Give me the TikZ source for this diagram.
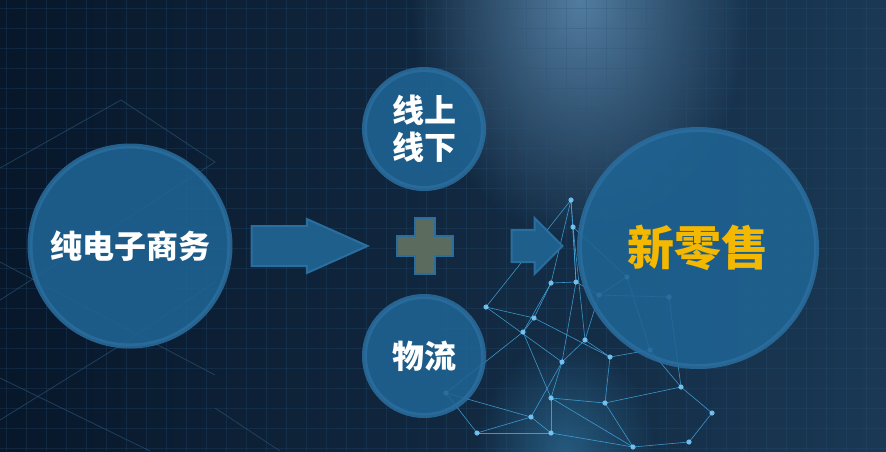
\documentclass[tikz,border=0pt]{standalone}
\usepackage{fontspec}
\newfontfamily\cjk{Noto Sans CJK SC}
\usetikzlibrary{shapes.arrows}
\usetikzlibrary{positioning}
\usetikzlibrary{fadings}
\definecolor{bgdark}{HTML}{08172A}
\definecolor{bglight}{HTML}{1A3854}
\definecolor{gridline}{HTML}{2A5478}
\definecolor{decoline}{HTML}{2C587C}
\definecolor{glowcolor}{HTML}{6C9EC6}
\definecolor{circfill}{HTML}{1F6494}
\definecolor{circrim}{HTML}{2A6E9F}
\definecolor{arrowfill}{HTML}{1F5F8C}
\definecolor{plusfill}{HTML}{5B6C5E}
\definecolor{netline}{HTML}{45B0EA}
\definecolor{netdot}{HTML}{7FD0FF}
\definecolor{retailgold}{HTML}{F5B800}
\tikzfading[name=softglow,inner color=transparent!0,outer color=transparent!100]

\begin{document}
\begin{tikzpicture}[x=1pt,y=-1pt,
            node distance = 18pt,
            bubble/.style = {circle,fill=circfill,fill opacity=0.88,
                draw=circrim,draw opacity=0.85,line width=5pt,
                text=white,text opacity=1,inner sep=0pt,align=center,
                font=\cjk\bfseries\fontsize{32}{37}\selectfont},
            blockarrow/.style = {single arrow,fill=arrowfill,
                draw=circrim,line width=2pt,inner xsep=0pt},
            plusbox/.style = {fill=plusfill,draw=circrim,line width=2pt},
            deco/.style = {decoline,line width=0.8pt,opacity=0.6},
            net/.style = {netline,line width=0.6pt,opacity=0.8}]
            \useasboundingbox (0,0) rectangle (886,451);
            \clip (0,0) rectangle (886,451);
            % background
            \shade[left color=bgdark,right color=bglight] (0,0) rectangle (886,451);
            \fill[glowcolor,fill opacity=0.7,path fading=softglow]
                (580,0) ellipse (170 and 240);
            \fill[netline,fill opacity=0.35,path fading=softglow]
                (565,451) ellipse (90 and 110);
            \foreach \gx in {6,26,...,886}
                \draw[gridline,line width=0.5pt,opacity=0.25] (\gx,0) -- (\gx,451);
            \foreach \gy in {8,28,...,451}
                \draw[gridline,line width=0.5pt,opacity=0.25] (0,\gy) -- (886,\gy);
            \draw[deco] (0,168) -- (121,100) -- (215,162) -- (0,300);
            \draw[deco] (0,262) -- (215,375);
            \draw[deco] (215,282) -- (121,345) -- (0,420);
            \draw[deco] (0,378) -- (150,451);
            \draw[deco] (215,408) -- (280,451);
            % network
            \foreach \i/\px/\py in {1/571/200,2/573/227,3/576/282,4/551/283,
                    5/599/295,6/627/277,7/669/297,8/486/307,9/534/318,
                    10/523/332,11/585/340,12/610/357,13/562/362,14/650/350,
                    15/446/393,16/551/398,17/605/403,18/681/387,19/531/417,
                    20/712/413,21/477/433,22/551/433,23/633/447,24/689/442}
                \coordinate (n\i) at (\px,\py);
            \foreach \a/\b in {1/2,1/3,1/8,2/3,2/6,2/11,3/4,3/5,4/9,4/10,
                    5/6,5/7,5/11,6/14,8/9,8/13,9/10,9/12,10/15,10/16,11/12,
                    11/13,12/14,12/17,13/16,13/19,14/18,15/21,16/17,16/22,
                    17/18,17/23,18/20,19/21,19/22,20/24,22/23,23/24,7/18,3/13,
                    1/4,15/19,21/22,16/23}
                \draw[net] (n\a) -- (n\b);
            \foreach \i in {1,...,24}
                \fill[netdot,opacity=0.85] (n\i) circle (2.6);
            % circles
            \node[bubble,minimum size=200pt] (ecom) at (130,246) {纯电子商务};
            \node[bubble,minimum size=119pt] (online) at (424,129) {线上\\线下};
            \node[bubble,minimum size=119pt] (logistics) at (424,356) {物流};
            \node[bubble,minimum size=237pt,text=retailgold,
                font=\cjk\bfseries\fontsize{47}{50}\selectfont] (retail) at (698,248) {新零售};
            % arrows and plus
            \node[blockarrow,right=of ecom,minimum height=116pt,inner ysep=19pt,
                single arrow head extend=7pt,single arrow tip angle=48] (arrowA) {};
            \coordinate (plus) at (425,246);
            \filldraw[plusbox,shift={(plus)}] (-10,-28) -- (10,-28) -- (10,-10)
                -- (28,-10) -- (28,10) -- (10,10) -- (10,28) -- (-10,28)
                -- (-10,10) -- (-28,10) -- (-28,-10) -- (-10,-10) -- cycle;
            \node[blockarrow,minimum height=51pt,inner ysep=15pt,
                single arrow head extend=12pt] (arrowB) at (529,246) {};
        \end{tikzpicture}
\end{document}
